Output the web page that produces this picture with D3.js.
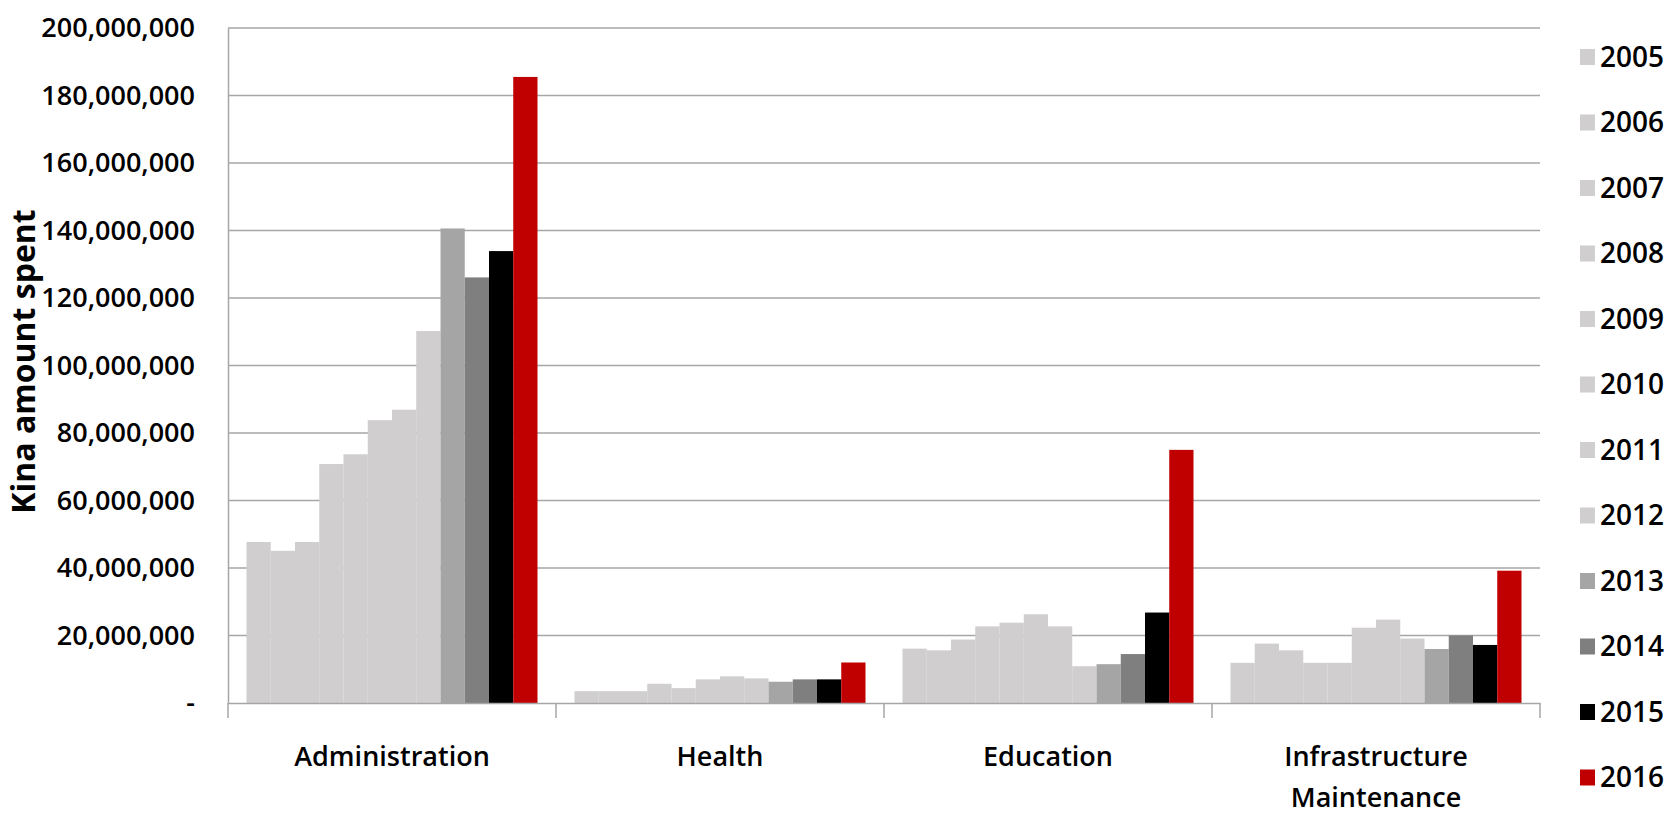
<!DOCTYPE html>
<html>
<head>
<meta charset="utf-8">
<script src="https://cdn.jsdelivr.net/npm/d3@7"></script>
<style>
  body { margin: 0; background: #fff; }
  svg { display: block; font-family: "Open Sans", sans-serif; }
</style>
</head>
<body>
<div id="chart"></div>
<script>
// categories on the x axis (the last one wraps onto two lines)
const categories = ["Administration", "Health", "Education", "Infrastructure Maintenance"];
const years = ["2005", "2006", "2007", "2008", "2009", "2010", "2011", "2012", "2013", "2014", "2015", "2016"];

// Kina amount spent, in millions, one array per category in year order
const administration = [47.7, 45.1, 47.7, 70.8, 73.7, 83.8, 86.9, 110.2, 140.6, 126.1, 133.9, 185.5];
const health         = [3.5, 3.5, 3.5, 5.7, 4.4, 7.0, 7.9, 7.3, 6.3, 7.0, 7.0, 12.0];
const education      = [16.1, 15.6, 18.8, 22.7, 23.8, 26.3, 22.7, 10.9, 11.5, 14.5, 26.8, 75.0];
const infrastructure = [11.9, 17.6, 15.6, 11.9, 11.9, 22.3, 24.7, 19.1, 16.0, 20.0, 17.2, 39.2];

const yTicks = [0, 20, 40, 60, 80, 100, 120, 140, 160, 180, 200];

const seriesByCategory = [administration, health, education, infrastructure];

const width = 1671;
const height = 822;
const margin = { top: 28, right: 131, bottom: 119, left: 228 };

const light = "#d0cecf";
const color = d3.scaleOrdinal()
    .domain(years)
    .range([light, light, light, light, light, light, light, light, "#a5a5a5", "#7f7f7f", "#000000", "#c00000"]);

const svg = d3.select("#chart")
    .append("svg")
    .attr("width", width)
    .attr("height", height);

const x0 = d3.scaleBand()
    .domain(categories)
    .range([margin.left, width - margin.right])
    .padding(0);

const inset = 18.5;
const x1 = d3.scaleBand()
    .domain(years)
    .range([inset, x0.bandwidth() - inset])
    .padding(0);

const y = d3.scaleLinear()
    .domain([0, 200])
    .range([height - margin.bottom, margin.top]);

// gridlines
svg.append("g")
    .selectAll("line")
    .data(yTicks.slice(1))
    .enter()
    .append("line")
    .attr("x1", margin.left)
    .attr("x2", width - margin.right)
    .attr("y1", d => y(d))
    .attr("y2", d => y(d))
    .attr("stroke", "#a6a6a6")
    .attr("stroke-width", 1.5);

// bars
const groups = svg.append("g")
    .selectAll("g")
    .data(categories)
    .enter()
    .append("g")
    .attr("transform", d => `translate(${x0(d)},0)`);

groups.selectAll("rect")
    .data((d, i) => seriesByCategory[i].map((v, j) => ({ year: years[j], value: v })))
    .enter()
    .append("rect")
    .attr("x", d => x1(d.year))
    .attr("width", x1.bandwidth())
    .attr("y", d => y(d.value))
    .attr("height", d => y(0) - y(d.value))
    .attr("fill", d => color(d.year));

// y axis
const yAxis = d3.axisLeft(y)
    .tickValues(yTicks)
    .tickSize(0)
    .tickPadding(33)
    .tickFormat(d => d === 0 ? "-" : d3.format(",")(d * 1e6));

const gy = svg.append("g")
    .attr("transform", `translate(${margin.left},0)`)
    .call(yAxis);
gy.select(".domain").attr("stroke", "#a6a6a6").attr("stroke-width", 1.5);
gy.selectAll("text")
    .attr("font-size", 27)
    .attr("font-weight", 600)
    .attr("fill", "#000")
    .attr("font-family", "Open Sans");

// x axis
const xAxis = d3.axisBottom(x0)
    .tickSize(0)
    .tickFormat("");
const gx = svg.append("g")
    .attr("transform", `translate(0,${y(0)})`)
    .call(xAxis);
gx.select(".domain").attr("stroke", "#a6a6a6").attr("stroke-width", 1.5);

// tick marks between categories
gx.selectAll(".bound")
    .data(d3.range(categories.length + 1))
    .enter()
    .append("line")
    .attr("class", "bound")
    .attr("x1", i => margin.left + i * x0.bandwidth())
    .attr("x2", i => margin.left + i * x0.bandwidth())
    .attr("y1", 0)
    .attr("y2", 15)
    .attr("stroke", "#a6a6a6")
    .attr("stroke-width", 1.5);

// category labels, top aligned like Excel
const catLabels = svg.append("g")
    .selectAll("text")
    .data(categories)
    .enter()
    .append("text")
    .attr("x", d => x0(d) + x0.bandwidth() / 2)
    .attr("y", y(0) + 63)
    .attr("text-anchor", "middle")
    .attr("font-size", 27)
    .attr("font-weight", 600)
    .attr("fill", "#000");

catLabels.each(function (d) {
    const words = d.split(" ");
    const t = d3.select(this);
    words.forEach((w, i) => {
        t.append("tspan")
            .attr("x", x0(d) + x0.bandwidth() / 2)
            .attr("dy", i === 0 ? 0 : 41)
            .text(w);
    });
});

// y title
svg.append("text")
    .attr("transform", `translate(35,${(y(0) + y(200)) / 2 - 4}) rotate(-90)`)
    .attr("text-anchor", "middle")
    .attr("font-size", 32)
    .attr("font-weight", 700)
    .attr("fill", "#000")
    .text("Kina amount spent");

// legend
const legend = svg.append("g")
    .selectAll("g")
    .data(years)
    .enter()
    .append("g")
    .attr("transform", (d, i) => `translate(1580,${57 + i * 65.5})`);

legend.append("rect")
    .attr("x", 0)
    .attr("y", -8)
    .attr("width", 15)
    .attr("height", 16)
    .attr("fill", d => color(d));

legend.append("text")
    .attr("x", 20)
    .attr("y", 0)
    .attr("dy", "0.35em")
    .attr("font-size", 28)
    .attr("font-weight", 600)
    .attr("fill", "#000")
    .text(d => d);
</script>
</body>
</html>
